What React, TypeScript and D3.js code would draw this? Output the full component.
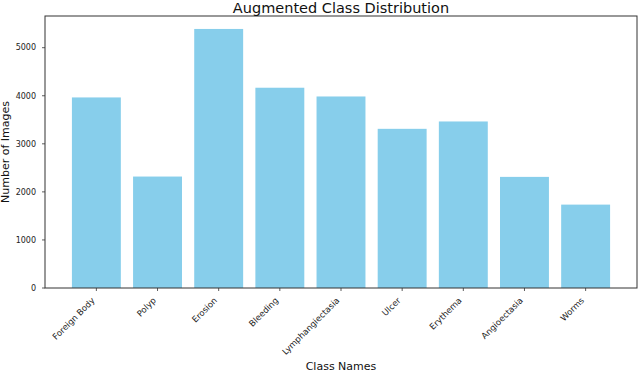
import React, { useRef, useEffect } from 'react';
import * as d3 from 'd3';

const classNames = [
  'Foreign Body', 'Polyp', 'Erosion', 'Bleeding', 'Lymphangiectasia',
  'Ulcer', 'Erythema', 'Angioectasia', 'Worms',
];
const imageCounts = [3965, 2319, 5390, 4167, 3985, 3312, 3465, 2312, 1735];
const yTicks = [0, 1000, 2000, 3000, 4000, 5000];

const App = () => {
  const svgRef = useRef<SVGSVGElement>(null);

  useEffect(() => {
    const svg = d3.select(svgRef.current);
    svg.selectAll('*').remove();

    const width = 640;
    const height = 373;
    const left = 45, right = 637, top = 16, bottom = 288;
    const font = 'DejaVu Sans, sans-serif';

    const x = d3.scaleBand<string>()
      .domain(classNames)
      .range([left, right])
      .paddingInner(0.2)
      .paddingOuter(0.44);

    const y = d3.scaleLinear()
      .domain([0, d3.max(imageCounts)! * 1.05])
      .range([bottom, top]);

    svg.attr('width', width).attr('height', height);
    svg.append('rect').attr('width', width).attr('height', height).attr('fill', '#fff');

    // bars
    svg.append('g')
      .selectAll('rect')
      .data(classNames)
      .enter().append('rect')
      .attr('x', d => x(d)!)
      .attr('y', (d, i) => y(imageCounts[i]))
      .attr('width', x.bandwidth())
      .attr('height', (d, i) => bottom - y(imageCounts[i]))
      .attr('fill', '#87ceeb');

    // y axis ticks
    const yg = svg.append('g');
    yTicks.forEach(t => {
      yg.append('line')
        .attr('x1', left - 3).attr('x2', left)
        .attr('y1', y(t)).attr('y2', y(t))
        .attr('stroke', '#333').attr('stroke-width', 0.8);
      yg.append('text')
        .attr('x', left - 9).attr('y', y(t))
        .attr('dy', '0.35em')
        .attr('text-anchor', 'end')
        .attr('font-family', font).attr('font-size', 8)
        .attr('fill', '#222')
        .text(t);
    });

    // x axis ticks + rotated labels
    const xg = svg.append('g');
    classNames.forEach(c => {
      const cx = x(c)! + x.bandwidth() / 2;
      xg.append('line')
        .attr('x1', cx).attr('x2', cx)
        .attr('y1', bottom).attr('y2', bottom + 3)
        .attr('stroke', '#333').attr('stroke-width', 0.8);
      xg.append('text')
        .attr('transform', `translate(${cx - 1},${bottom + 13}) rotate(-45)`)
        .attr('text-anchor', 'end')
        .attr('font-family', font).attr('font-size', 8.5)
        .attr('fill', '#222')
        .text(c);
    });

    // frame
    svg.append('rect')
      .attr('x', left).attr('y', top)
      .attr('width', right - left).attr('height', bottom - top)
      .attr('fill', 'none').attr('stroke', '#333').attr('stroke-width', 1);

    // title + axis labels
    svg.append('text')
      .attr('x', (left + right) / 2).attr('y', 12.5)
      .attr('text-anchor', 'middle')
      .attr('font-family', font).attr('font-size', 14.5)
      .attr('fill', '#111')
      .text('Augmented Class Distribution');

    svg.append('text')
      .attr('x', (left + right) / 2).attr('y', 370)
      .attr('text-anchor', 'middle')
      .attr('font-family', font).attr('font-size', 11)
      .attr('fill', '#111')
      .text('Class Names');

    svg.append('text')
      .attr('transform', `translate(9,${(top + bottom) / 2}) rotate(-90)`)
      .attr('text-anchor', 'middle')
      .attr('font-family', font).attr('font-size', 11)
      .attr('fill', '#111')
      .text('Number of Images');
  }, []);

  return <svg ref={svgRef} style={{ position: 'fixed', left: 0, top: 0, display: 'block' }}></svg>;
};

export default App;
